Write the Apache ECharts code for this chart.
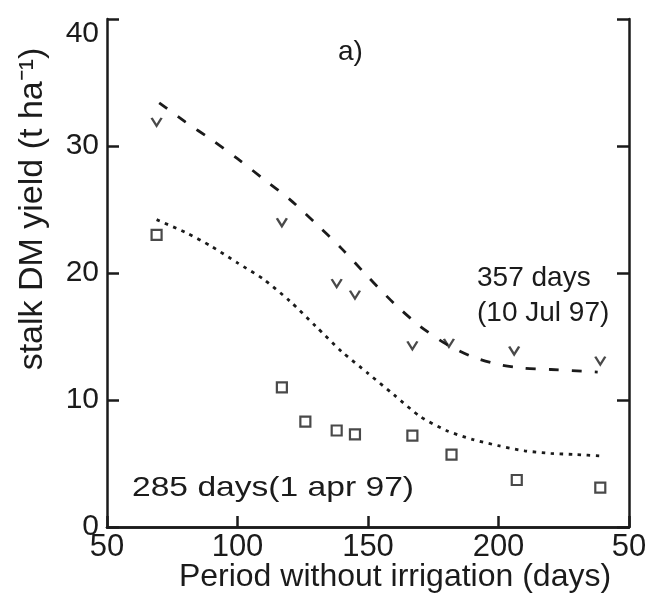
<!DOCTYPE html>
<html>
<head>
<meta charset="utf-8">
<script src="https://cdn.jsdelivr.net/npm/echarts@6/dist/echarts.min.js"></script>
<style>
  html, body { margin: 0; padding: 0; background: #fff; }
  #chart { width: 648px; height: 597px; }
</style>
</head>
<body>
<div id="chart"></div>
<script>
// tick labels as printed on the figure
const xTickValues = [50, 100, 150, 200, 250]
const xTickLabels = ['50', '100', '150', '200', '50']
const yTickLabels = ['0', '10', '20', '30', '40']

// 357 days (10 Jul 97) - measured points
const lateX = [69, 117, 138, 145, 167, 181, 206, 239]
const lateY = [31.9, 24.0, 19.2, 18.3, 14.3, 14.5, 13.9, 13.1]

// 285 days (1 apr 97) - measured points
const earlyX = [69, 117, 126, 138, 145, 167, 182, 207, 239]
const earlyY = [23.0, 11.0, 8.3, 7.6, 7.3, 7.2, 5.7, 3.7, 3.1]

// fitted curves
const lateFitX = [70, 80, 90, 100, 110, 120, 130, 140, 150, 160, 170, 180, 190, 200, 210, 220, 230, 238]
const lateFitY = [33.4, 31.9, 30.5, 29.0, 27.4, 25.8, 23.9, 21.9, 19.7, 17.6, 15.8, 14.4, 13.4, 12.8, 12.5, 12.4, 12.3, 12.2]
const earlyFitX = [69, 80, 90, 100, 110, 120, 130, 140, 150, 160, 170, 180, 190, 200, 210, 220, 230, 239]
const earlyFitY = [24.2, 23.2, 22.1, 20.8, 19.5, 17.8, 15.8, 13.8, 12.1, 10.4, 8.7, 7.6, 6.9, 6.4, 6.0, 5.8, 5.7, 5.6]

const pairs = (xs, ys) => xs.map((x, i) => [x, ys[i]])

const ink = '#1b1b1b'
const font = 'Liberation Sans, Arial, sans-serif'

const chart = echarts.init(document.getElementById('chart'))

chart.setOption({
  animation: false,
  backgroundColor: '#ffffff',
  grid: { left: 107, right: 19, top: 19, bottom: 70, outerBoundsMode: 'none', containLabel: false },
  xAxis: [
    {
      type: 'value',
      min: 50,
      max: 250,
      interval: 50,
      position: 'bottom',
      name: 'Period without irrigation (days)',
      nameLocation: 'middle',
      nameGap: 34,
      nameMoveOverlap: false,
      nameTextStyle: { color: ink, fontSize: 32, fontFamily: font, padding: [0, 0, 0, 54] },
      axisLine: { show: true, lineStyle: { color: ink, width: 2.5 } },
      axisTick: { show: true, inside: true, length: 11, lineStyle: { color: ink, width: 2.5 } },
      axisLabel: {
        color: ink,
        fontSize: 31,
        fontFamily: font,
        margin: 5,
        formatter: v => xTickLabels[xTickValues.indexOf(v)]
      },
      splitLine: { show: false }
    },
    {
      type: 'value',
      min: 50,
      max: 250,
      position: 'top',
      axisLine: { show: true, lineStyle: { color: ink, width: 2.5 } },
      axisTick: { show: false },
      axisLabel: { show: false },
      splitLine: { show: false }
    }
  ],
  yAxis: [
    {
      type: 'value',
      min: 0,
      max: 40,
      interval: 10,
      position: 'left',
      name: 'stalk DM yield (t ha\u207B\u00B9)',
      nameLocation: 'middle',
      nameRotate: 90,
      nameGap: 57,
      nameMoveOverlap: false,
      nameTextStyle: { color: ink, fontSize: 34, fontFamily: font, padding: [0, 0, 0, 128] },
      axisLine: { show: true, lineStyle: { color: ink, width: 2.5 } },
      axisTick: { show: true, inside: true, length: 12, lineStyle: { color: ink, width: 2.5 } },
      axisLabel: {
        color: ink,
        fontSize: 30,
        fontFamily: font,
        margin: 8,
        formatter: v => v === 40 ? '{top|' + yTickLabels[v / 10] + '}' : yTickLabels[v / 10],
        rich: { top: { fontSize: 30, fontFamily: font, color: ink, padding: [30, 0, 0, 0] } }
      },
      splitLine: { show: false }
    },
    {
      type: 'value',
      min: 0,
      max: 40,
      interval: 10,
      position: 'right',
      axisLine: { show: true, lineStyle: { color: ink, width: 2.5 } },
      axisTick: { show: true, inside: true, length: 12, lineStyle: { color: ink, width: 2.5 } },
      axisLabel: { show: false },
      splitLine: { show: false }
    }
  ],
  series: [
    {
      name: '357 days fit',
      type: 'line',
      data: pairs(lateFitX, lateFitY),
      smooth: 0.25,
      showSymbol: false,
      lineStyle: { color: ink, width: 2.8, type: [10, 13] }
    },
    {
      name: '285 days fit',
      type: 'line',
      data: pairs(earlyFitX, earlyFitY),
      smooth: 0.25,
      showSymbol: false,
      lineStyle: { color: ink, width: 2.8, type: [3.5, 5.5] }
    },
    {
      name: '357 days',
      type: 'scatter',
      data: pairs(lateX, lateY),
      symbol: 'path://M0,0 L4,7 L8,0',
      symbolSize: [10, 8],
      itemStyle: { color: 'none', borderColor: ink, borderWidth: 2.2 }
    },
    {
      name: '285 days',
      type: 'scatter',
      data: pairs(earlyX, earlyY),
      symbol: 'rect',
      symbolSize: 10,
      itemStyle: { color: '#fff', borderColor: ink, borderWidth: 2.2 }
    }
  ],
  graphic: [
    { type: 'text', left: 338, top: 38, style: { text: 'a)', fill: ink, font: '28px ' + font } },
    { type: 'text', left: 477, top: 264, style: { text: '357 days', fill: ink, font: '28px ' + font } },
    { type: 'text', left: 477, top: 299, style: { text: '(10 Jul 97)', fill: ink, font: '28px ' + font } },
    { type: 'text', x: 132, y: 474, scaleX: 1.2, style: { text: '285 days(1 apr 97)', fill: ink, font: '28px ' + font } }
  ]
})

window.addEventListener('resize', () => {
  chart.resize()
})
</script>
</body>
</html>
